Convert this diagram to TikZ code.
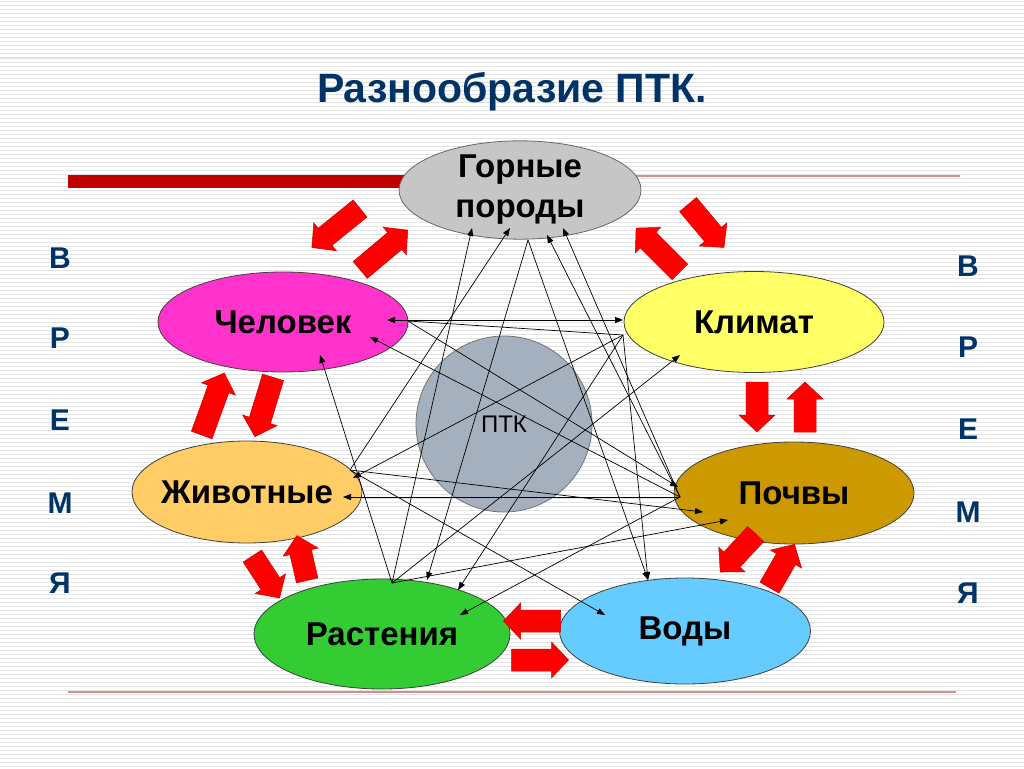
\documentclass[tikz,border=0pt]{standalone}
\usepackage{fontspec}
\setmainfont{Liberation Sans}
\usetikzlibrary{arrows.meta,shapes.geometric}
\definecolor{titleblue}{RGB}{0,51,102}
\definecolor{bardark}{RGB}{192,0,0}
\definecolor{barpale}{RGB}{208,144,144}
\definecolor{rockgray}{RGB}{198,198,198}
\definecolor{humanpink}{RGB}{255,51,204}
\definecolor{climyellow}{RGB}{255,255,102}
\definecolor{animorange}{RGB}{255,204,102}
\definecolor{soilbrown}{RGB}{204,153,0}
\definecolor{plantgreen}{RGB}{51,204,51}
\definecolor{waterblue}{RGB}{102,204,255}
\definecolor{ptkgray}{RGB}{165,176,190}
\tikzstyle{zone}=[ellipse, draw=black!75, line width=0.8pt, inner sep=0pt, align=center, font=\bfseries\fontsize{33}{40}\selectfont]
\tikzstyle{push}=[fill=red, draw=red!80!black, line width=0.5pt, line join=miter]
\tikzstyle{letter}=[text=titleblue, inner sep=0pt, font=\bfseries\fontsize{30}{30}\selectfont]
\newcommand{\zone}{\node[zone]}
% fat red arrow: centre, angle, length
\newcommand{\fatarrow}[3]{%
  \begin{scope}[shift={#1}, rotate=#2]
    \filldraw[push] (-#3/2,-11) -- (#3/2-17,-11) -- (#3/2-17,-18) -- (#3/2,0)
      -- (#3/2-17,18) -- (#3/2-17,11) -- (-#3/2,11) -- cycle;
  \end{scope}}

\begin{document}
\begin{tikzpicture}[x=1pt, y=-1pt
  ,every edge/.style={draw, line width=0.7pt}
  ,>={Triangle[length=8pt,width=6pt]}
]
\useasboundingbox (0,0) rectangle (1024,768);
\fill[white] (0,0) rectangle (1024,768);
\foreach \y in {2,6,...,766}
  \draw[black!11, line width=1pt] (0,\y) -- (1024,\y);

% rules
\fill[bardark] (68,175) rectangle (405,188);
\draw[barpale, line width=1.6pt] (630,176) -- (960,176);
\draw[barpale, line width=1.6pt] (68,692) -- (956,692);

\node[text=titleblue, font=\bfseries\fontsize{41}{41}\selectfont] (title) at (512,92) {Разнообразие ПТК.};

\foreach \ch/\y [count=\i] in {В/258,Р/338,Е/420,М/503,Я/583}
  \node[letter] (tl\i) at (60,\y) {\ch};
\foreach \ch/\y [count=\i] in {В/266,Р/347,Е/429,М/512,Я/593}
  \node[letter] (tr\i) at (968,\y) {\ch};

% components
\zone[fill=rockgray, draw=black!60, minimum width=242pt, minimum height=96pt] (gor) at (520,190) {Горные\\породы};
\zone[fill=humanpink, minimum width=250pt, minimum height=100pt] (hum) at (283,322) {Человек};
\zone[fill=climyellow, minimum width=260pt, minimum height=101pt] (kli) at (754,322) {Климат};
\zone[fill=animorange, minimum width=230pt, minimum height=102pt
  ,label={[font=\bfseries\fontsize{33}{40}\selectfont]center:Животные}] (ani) at (247,492) {};
\zone[fill=soilbrown, minimum width=240pt, minimum height=102pt] (soi) at (794,493) {Почвы};
\zone[fill=plantgreen, minimum width=256pt, minimum height=110pt] (pla) at (382,634) {Растения};
\zone[fill=waterblue, minimum width=251pt, minimum height=106pt] (wat) at (685,631) {Воды};
\node[circle, fill=ptkgray, draw=black!55, line width=0.8pt, minimum size=176pt, inner sep=0pt
  ,font=\fontsize{24}{24}\selectfont] (ptk) at (504,424) {ПТК};

% link points
\coordinate (g0) at (528,240);
\coordinate (g1) at (472,228);
\coordinate (g2) at (510,228);
\coordinate (g3) at (547,235);
\coordinate (g4) at (563,228);
\coordinate (h0) at (408,321);
\coordinate (h1) at (387,320);
\coordinate (h2) at (370,337);
\coordinate (h3) at (320,355);
\coordinate (k0) at (623,335);
\coordinate (k1) at (623,320);
\coordinate (k2) at (680,355);
\coordinate (a0) at (350,470);
\coordinate (a1) at (353,478);
\coordinate (a2) at (343,497);
\coordinate (s0) at (680,497);
\coordinate (s1) at (678,487);
\coordinate (s2) at (703,512);
\coordinate (s3) at (728,520);
\coordinate (p0) at (392,583);
\coordinate (p1) at (427,580);
\coordinate (p2) at (458,590);
\coordinate (p3) at (460,615);
\coordinate (w1) at (648,580);
\coordinate (w2) at (605,615);

\path[->]
(p0) edge (g1) edge (h3) edge (k2) edge (s3)
(a0) edge (g2) edge (s2) edge (w2)
(s0) edge (g3) edge (g4) edge (h2) edge (a2) edge (p3)
(g0) edge (p1) edge (w1)
(h1) edge[<->] (k1)
(h0) edge[-] (k0) edge (s1)
(k0) edge (a1) edge (p2) edge (w1)
;

% exchange arrows
\fatarrow{(336,228)}{219}{62}
\fatarrow{(384,250)}{40}{62}
\fatarrow{(658,250)}{135}{62}
\fatarrow{(706,226)}{-50}{56}
\fatarrow{(213,404)}{70}{66}
\fatarrow{(264,407)}{-107}{62}
\fatarrow{(757,407)}{-90}{50}
\fatarrow{(805,407)}{90}{50}
\fatarrow{(266,577)}{-57}{50}
\fatarrow{(302,558)}{103}{46}
\fatarrow{(738,553)}{227}{52}
\fatarrow{(782,566)}{60}{50}
\fatarrow{(532,621)}{180}{57}
\fatarrow{(540,660)}{0}{57}
\end{tikzpicture}
\end{document}
